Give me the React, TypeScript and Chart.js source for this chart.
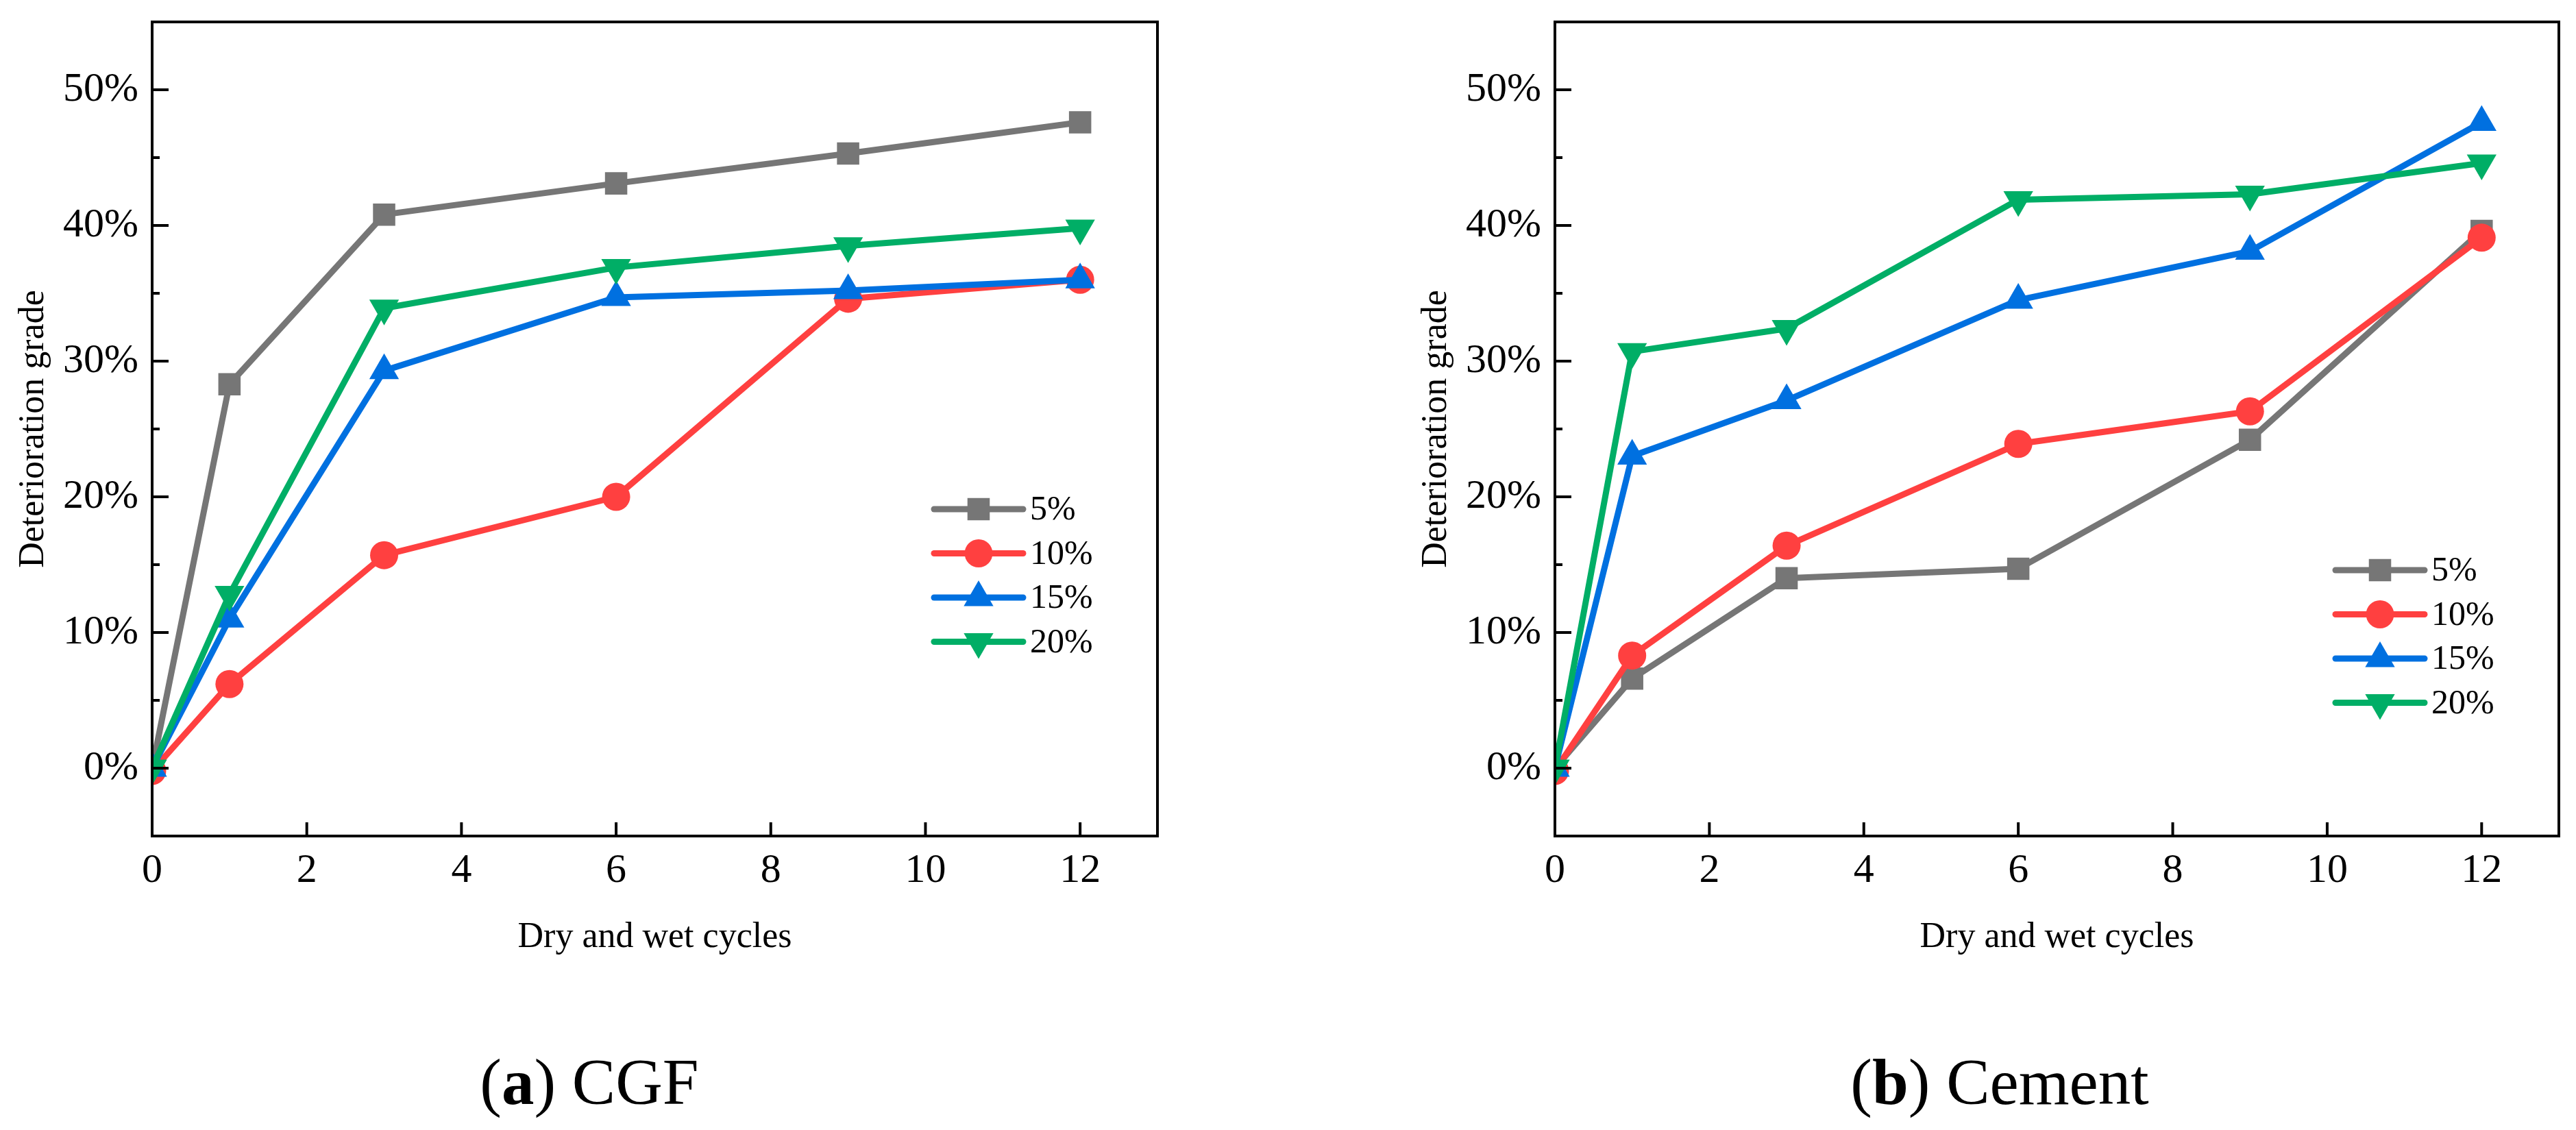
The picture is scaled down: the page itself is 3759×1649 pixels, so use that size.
import { useEffect, useRef } from "react"
import { Chart, registerables } from "chart.js"
import { drawPoint } from "chart.js/helpers"

Chart.register(...registerables)

const SERIF = "'Liberation Serif', 'Times New Roman', serif"
Chart.defaults.font.family = SERIF
Chart.defaults.color = "#000"

// Dry and wet cycles
const cycles = [0, 1, 3, 6, 9, 12]
const seriesLabels = ["5%", "10%", "15%", "20%"]

// (a) CGF, deterioration grade in %
const cgf5 = [0, 28.3, 40.8, 43.1, 45.3, 47.6]
const cgf10 = [-0.2, 6.2, 15.7, 20.0, 34.6, 36.0]
const cgf15 = [0, 11.0, 29.3, 34.7, 35.2, 36.0]
const cgf20 = [0, 12.8, 33.9, 36.9, 38.5, 39.8]

// (b) Cement, deterioration grade in %
const cement5 = [0, 6.6, 14.0, 14.7, 24.2, 39.6]
const cement10 = [-0.2, 8.3, 16.4, 23.9, 26.3, 39.1]
const cement15 = [0, 23.0, 27.1, 34.5, 38.1, 47.6]
const cement20 = [0, 30.7, 32.4, 41.9, 42.3, 44.6]

const colors = ["#767676", "#FF4040", "#0070E0", "#00AE66"]
const pointStyles = ["rect", "circle", "triangle", "triangle"]
const pointRadii = [23, 20.5, 25, 25]
const pointRotations = [0, 0, 0, 180]

// box, inward ticks, axis titles and the line+marker legend
const framePlugin = {
  id: "frame",
  afterDraw(chart: any, _args: any, opts: any) {
    const { ctx, chartArea: a } = chart
    const xs = chart.scales.x
    const ys = chart.scales.y
    ctx.save()
    ctx.strokeStyle = "#000"
    ctx.lineWidth = 4
    ctx.beginPath()
    xs.ticks.forEach((t: any) => {
      if (t.value <= xs.min || t.value >= xs.max) return
      const px = xs.getPixelForValue(t.value)
      ctx.moveTo(px, a.bottom)
      ctx.lineTo(px, a.bottom - 20)
    })
    ys.ticks.forEach((t: any) => {
      if (t.value <= ys.min || t.value >= ys.max) return
      const py = ys.getPixelForValue(t.value)
      const len = t.value % 10 === 0 ? 24 : 11
      ctx.moveTo(a.left, py)
      ctx.lineTo(a.left + len, py)
    })
    ctx.stroke()
    ctx.lineJoin = "miter"
    ctx.strokeRect(a.left, a.top, a.right - a.left, a.bottom - a.top)

    ctx.fillStyle = "#000"
    ctx.font = `52px ${SERIF}`
    ctx.textAlign = "center"
    ctx.textBaseline = "alphabetic"
    ctx.fillText(opts.xTitle, (a.left + a.right) / 2, a.bottom + 162)
    ctx.save()
    ctx.translate(a.left - 159, (a.top + a.bottom) / 2)
    ctx.rotate(-Math.PI / 2)
    ctx.fillText(opts.yTitle, 0, 0)
    ctx.restore()

    ctx.font = `50px ${SERIF}`
    ctx.textAlign = "left"
    ctx.textBaseline = "middle"
    chart.data.datasets.forEach((ds: any, i: number) => {
      const y = a.top + opts.legendTop + i * 64.5
      const x0 = a.right - 326
      ctx.strokeStyle = ds.borderColor
      ctx.lineWidth = 9
      ctx.lineCap = "round"
      ctx.beginPath()
      ctx.moveTo(x0, y)
      ctx.lineTo(x0 + 130, y)
      ctx.stroke()
      ctx.fillStyle = ds.pointBackgroundColor
      drawPoint(
        ctx,
        { pointStyle: ds.pointStyle, radius: ds.pointRadius, rotation: ds.pointRotation, borderWidth: 0 },
        x0 + 65,
        y
      )
      ctx.fillStyle = "#000"
      ctx.fillText(ds.label, a.right - 186, y + 2)
    })
    ctx.restore()
  },
}

interface PanelProps {
  series: number[][]
  width: number
  height: number
  area: { left: number; top: number; right: number; bottom: number }
  legendTop: number
  left: number
}

function Panel({ series, width, height, area, legendTop, left }: PanelProps) {
  const canvasRef = useRef<HTMLCanvasElement>(null)

  useEffect(() => {
    if (!canvasRef.current) return

    const chart = new Chart(canvasRef.current, {
      type: "line",
      data: {
        datasets: series.map((values, i) => ({
          label: seriesLabels[i],
          data: cycles.map((x, j) => ({ x, y: values[j] })),
          borderColor: colors[i],
          backgroundColor: colors[i],
          borderWidth: 9,
          borderCapStyle: "round",
          borderJoinStyle: "round",
          pointStyle: pointStyles[i],
          pointRadius: pointRadii[i],
          pointRotation: pointRotations[i],
          pointBorderWidth: 0,
          pointBackgroundColor: colors[i],
          tension: 0,
          order: series.length - i,
        })),
      },
      options: {
        responsive: false,
        animation: false,
        devicePixelRatio: 1,
        events: [],
        layout: { padding: { left: 0, top: area.top, right: width - area.right, bottom: 0 } },
        plugins: {
          legend: { display: false },
          tooltip: { enabled: false },
          frame: { xTitle: "Dry and wet cycles", yTitle: "Deterioration grade", legendTop },
        },
        scales: {
          x: {
            type: "linear",
            min: 0,
            max: 13,
            afterBuildTicks: (s: any) => {
              s.ticks = s.ticks.filter((t: any) => t.value % 2 === 0)
            },
            afterFit: (s: any) => {
              s.height = height - area.bottom
              s.paddingLeft = 0
              s.paddingRight = 0
            },
            ticks: {
              stepSize: 2,
              padding: 15,
              color: "#000",
              font: { family: SERIF, size: 60 },
              maxRotation: 0,
              autoSkip: false,
            },
            grid: { display: false, drawTicks: false },
            border: { display: false },
          },
          y: {
            type: "linear",
            min: -5,
            max: 55,
            afterBuildTicks: (s: any) => {
              s.ticks = s.ticks.filter((t: any) => t.value > -5 && t.value < 55)
            },
            afterFit: (s: any) => {
              s.width = area.left
              s.paddingTop = 0
              s.paddingBottom = 0
            },
            ticks: {
              stepSize: 5,
              padding: 20,
              color: "#000",
              font: { family: SERIF, size: 60 },
              autoSkip: false,
              callback: (v: any) => (Number(v) % 10 === 0 ? `${v}%` : ""),
            },
            grid: { display: false, drawTicks: false },
            border: { display: false },
          },
        },
      } as any,
      plugins: [framePlugin],
    })

    return () => {
      chart.destroy()
    }
  }, [series, width, height, area, legendTop])

  return (
    <canvas
      ref={canvasRef}
      width={width}
      height={height}
      style={{ position: "absolute", left, top: 0, width, height }}
    />
  )
}

const captionStyle: React.CSSProperties = {
  position: "absolute",
  top: 1532,
  fontFamily: SERIF,
  fontSize: 95,
  lineHeight: 1,
  whiteSpace: "nowrap",
  transform: "translateX(-50%)",
  color: "#000",
}

export default function App() {
  return (
    <div style={{ position: "absolute", left: 0, top: 0, width: 3759, height: 1649, background: "#fff", overflow: "hidden" }}>
      <Panel
        series={[cgf5, cgf10, cgf15, cgf20]}
        width={1760}
        height={1450}
        area={{ left: 222, top: 32, right: 1689, bottom: 1220 }}
        legendTop={711}
        left={0}
      />
      <Panel
        series={[cement5, cement10, cement15, cement20]}
        width={1869}
        height={1450}
        area={{ left: 379, top: 32, right: 1851, bottom: 1220 }}
        legendTop={800}
        left={1890}
      />
      <div style={{ ...captionStyle, left: 860 }}>
        (<b>a</b>) CGF
      </div>
      <div style={{ ...captionStyle, left: 2918 }}>
        (<b>b</b>) Cement
      </div>
    </div>
  )
}
